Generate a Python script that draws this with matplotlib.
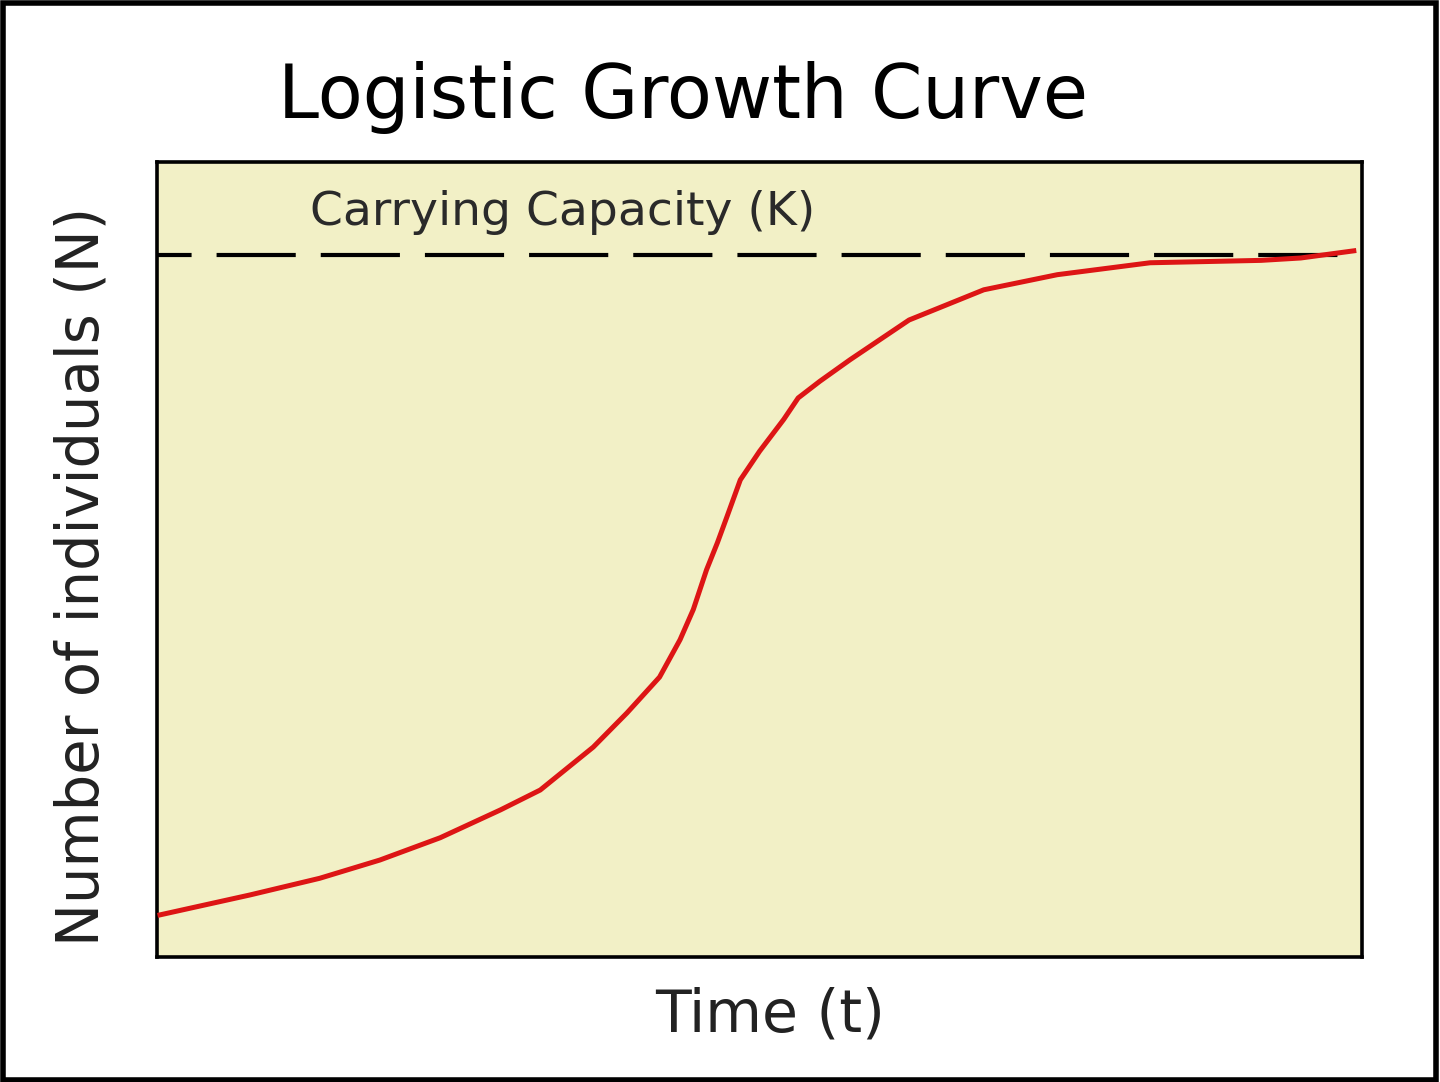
import numpy as np
import matplotlib
matplotlib.use("Agg")
import matplotlib.pyplot as plt
from matplotlib.patches import Rectangle

# curve (time vs number of individuals, both 0-100 scale)
time = [0.25, 7.7, 13.5, 18.5, 23.5, 28.5, 31.8, 36.2, 39.0, 41.7, 43.4, 44.5,
        45.6, 46.5, 47.3, 48.4, 50.0, 52.0, 53.2, 55.0, 57.5, 62.4, 68.6, 74.7,
        82.4, 91.6, 94.9, 99.3]
individuals = [5.3, 7.8, 9.9, 12.2, 15.0, 18.5, 21.0, 26.4, 30.7, 35.2, 39.9, 43.7,
               48.7, 52.1, 55.4, 60.0, 63.6, 67.6, 70.3, 72.4, 75.1, 80.1, 83.9, 85.8,
               87.3, 87.6, 87.9, 88.8]
capacity = 88.3
capacity_label = "Carrying Capacity (K)"

fig = plt.figure(figsize=(14.4, 10.82), dpi=100)
fig.patches.append(Rectangle((0.002, 0.002), 0.995, 0.995, transform=fig.transFigure,
                             fill=False, edgecolor="black", linewidth=4))

ax = fig.add_axes([0.109, 0.1155, 0.837, 0.735])
ax.set_facecolor("#F2F0C6")
for s in ax.spines.values():
    s.set_linewidth(2.6)
ax.set_xlim(0, 100)
ax.set_ylim(0, 100)
ax.set_xticks([])
ax.set_yticks([])

ax.axhline(capacity, color="black", linewidth=3, linestyle=(10.7, (19, 6)), zorder=2)
ax.plot(time, individuals, color="#DD1515", linewidth=3.6, zorder=3,
        solid_joinstyle="round")
ax.text(12.7, 93.6, capacity_label, fontsize=34, color="#2a2a2a", va="center", ha="left")

fig.text(683 / 1440, 1 - 97 / 1082, "Logistic Growth Curve", fontsize=53, ha="center", va="center")
fig.text(770 / 1440, 1 - 1015 / 1082, "Time (t)", fontsize=42, ha="center", va="center",
         color="#222222")
fig.text(82 / 1440, 1 - 576 / 1082, "Number of individuals (N)", fontsize=41.5, rotation=90,
         ha="center", va="center", color="#222222")

fig.savefig("out.png", dpi=100)
